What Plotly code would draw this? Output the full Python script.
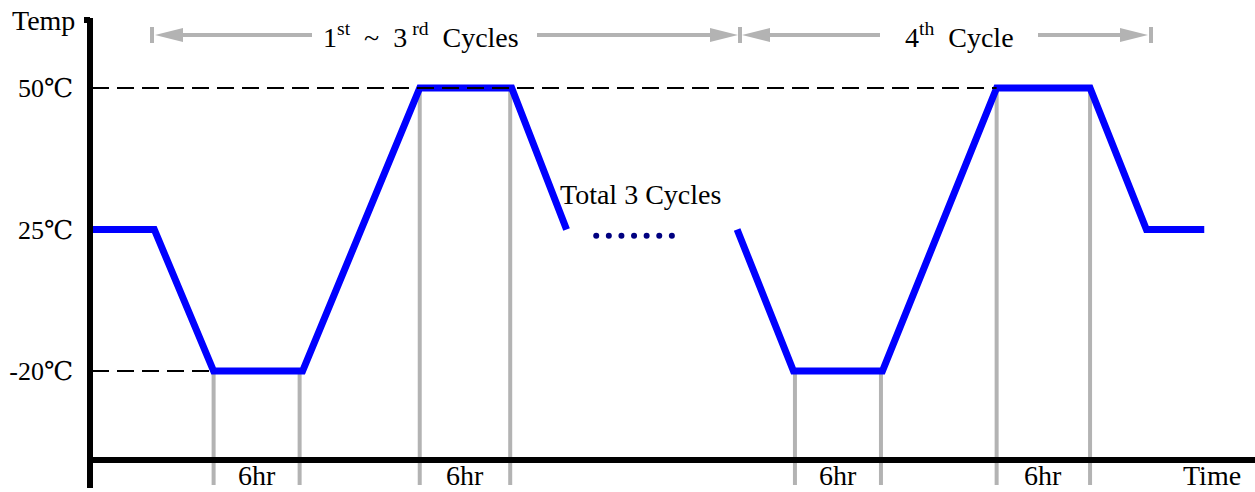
import numpy as np
import plotly.graph_objects as go

# ---------------- data ----------------
temp_levels = [-20, 25, 50]
temp_tick_labels = ["-20℃", "25℃", "50℃"]

cycle1_time = [0, 4.2, 8.2, 14.2, 22.1, 28.3, 32.0]
cycle1_temp = [25, 25, -20, -20, 50, 50, 25]
cycle4_time = [43.5, 47.3, 53.3, 61.0, 67.3, 71.1, 75.0]
cycle4_temp = [25, -20, -20, 50, 50, 25, 25]

ellipsis_time = [34.0, 34.85, 35.7, 36.55, 37.4, 38.25, 39.1]
ellipsis_temp = [23, 23, 23, 23, 23, 23, 23]

hold_start_time = [8.2, 22.1, 47.4, 61.0]
hold_end_time = [14.0, 28.2, 53.2, 67.3]
hold_temp = [-20, 50, -20, 50]
hold_labels = ["6hr", "6hr", "6hr", "6hr"]

ref_temp = [50, -20]
ref_end_time = [61.0, 8.2]

cycle_labels = ["1<sup>st</sup>  ~  3<sup> rd</sup>  Cycles",
                "4<sup>th</sup>  Cycle"]

# ---------------- helpers (schematic level scale) ----------------
def lvl(t):
    return np.interp(t, temp_levels, [0, 1, 2])

PX_PER_H = 14.83
X0_PX = 92
def px2x(px):
    return (px - X0_PX) / PX_PER_H

def py2y(py):
    return (371 - py) / 141.5

def px2paper(px):
    return (px - 90) / 1165

GRAY = "#B3B3B3"
FONT = "Liberation Serif, Times New Roman, DejaVu Serif, serif"
FS = 28

fig = go.Figure()

# gray hold markers
gx, gy = [], []
for s, e, t in zip(hold_start_time, hold_end_time, hold_temp):
    for xx in (s, e):
        gx += [xx, xx, None]
        gy += [lvl(t), py2y(485), None]
fig.add_trace(go.Scatter(x=gx, y=gy, mode="lines",
                         line=dict(color=GRAY, width=4), hoverinfo="skip",
                         showlegend=False))

# blue profile
for tt, tp in ((cycle1_time, cycle1_temp), (cycle4_time, cycle4_temp)):
    fig.add_trace(go.Scatter(x=tt, y=lvl(tp), mode="lines",
                             line=dict(color="#0000FF", width=7),
                             showlegend=False))

# ellipsis dots
fig.add_trace(go.Scatter(x=ellipsis_time, y=lvl(ellipsis_temp), mode="markers",
                         marker=dict(color="#000080", size=6),
                         showlegend=False))

shapes = []
# dashed reference lines
for t, xe in zip(ref_temp, ref_end_time):
    shapes.append(dict(type="line", x0=px2x(92), x1=xe, y0=lvl(t), y1=lvl(t),
                       line=dict(color="black", width=2, dash="17px,8px"),
                       layer="above"))
# axes
shapes.append(dict(type="line", xref="paper", x0=px2paper(90), x1=px2paper(90),
                   y0=py2y(18), y1=py2y(488), line=dict(color="black", width=6)))
shapes.append(dict(type="line", xref="paper", x0=px2paper(84), x1=px2paper(90),
                   y0=py2y(20), y1=py2y(20), line=dict(color="black", width=6)))
shapes.append(dict(type="line", xref="paper", x0=px2paper(88), x1=px2paper(1255),
                   y0=py2y(460), y1=py2y(460), line=dict(color="black", width=6)))

# top cycle arrows
ya = 35
for xb in (152, 740, 1151):
    shapes.append(dict(type="line", x0=px2x(xb), x1=px2x(xb), y0=py2y(27), y1=py2y(43),
                       line=dict(color=GRAY, width=4)))
for a, b in ((182, 312), (537, 711), (768, 880), (1038, 1121)):
    shapes.append(dict(type="line", x0=px2x(a), x1=px2x(b), y0=py2y(ya), y1=py2y(ya),
                       line=dict(color=GRAY, width=4)))

def tri(tip, base):
    return (f"M {px2x(tip)},{py2y(ya)} L {px2x(base)},{py2y(ya-7)} "
            f"L {px2x(base)},{py2y(ya+7)} Z")

for tip, base in ((155, 183), (738, 710), (742, 770), (1148, 1120)):
    shapes.append(dict(type="path", path=tri(tip, base), fillcolor=GRAY,
                       line=dict(color=GRAY, width=0)))

tf = dict(size=FS, family=FONT, color="black")
annotations = []
annotations.append(dict(x=px2x(421), y=py2y(35), text=cycle_labels[0], showarrow=False, font=tf))
annotations.append(dict(x=px2x(959), y=py2y(35), text=cycle_labels[1], showarrow=False, font=tf))
annotations.append(dict(x=px2x(640), y=py2y(194), text="Total 3 Cycles", showarrow=False, font=tf))
annotations.append(dict(xref="paper", x=px2paper(77), y=py2y(20), text="Temp", showarrow=False,
                        xanchor="right", font=tf))
annotations.append(dict(x=px2x(1212), y=py2y(475), text="Time", showarrow=False, font=tf))
for s, e, lab in zip(hold_start_time, hold_end_time, hold_labels):
    annotations.append(dict(x=(s + e) / 2, y=py2y(475), text=lab, showarrow=False, font=tf))

fig.update_layout(
    width=1255, height=492,
    margin=dict(l=90, r=0, t=0, b=0),
    paper_bgcolor="white", plot_bgcolor="white",
    shapes=shapes, annotations=annotations,
    font=dict(family=FONT, size=FS, color="black"),
    xaxis=dict(range=[px2x(90), px2x(1255)], showgrid=False, zeroline=False,
               showticklabels=False, showline=False, ticks=""),
    yaxis=dict(range=[py2y(492), py2y(0)], tickmode="array",
               tickvals=lvl(temp_levels), ticktext=temp_tick_labels,
               showgrid=False, zeroline=False, showline=False, ticks="",
               ticklabelstandoff=16, tickfont=dict(size=26, family=FONT, color="black")),
    showlegend=False,
)

fig.write_html("out.html", config={"displayModeBar": False},
               post_script="document.body.style.margin='0';document.body.style.overflow='hidden';")
